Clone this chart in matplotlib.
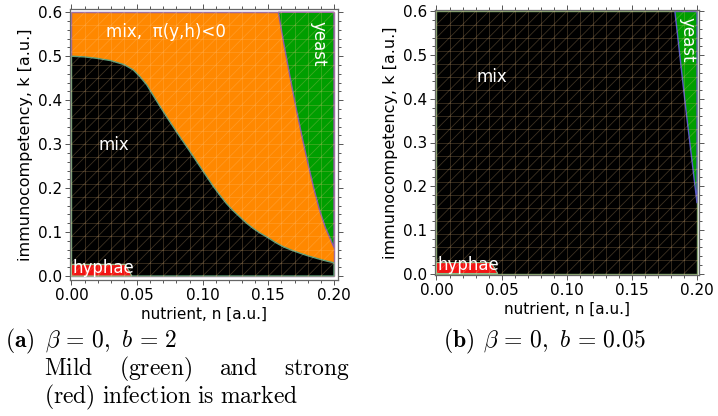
import numpy as np
import matplotlib
matplotlib.use("Agg")
import matplotlib.pyplot as plt
from matplotlib.ticker import MultipleLocator, FormatStrFormatter

plt.rcParams["mathtext.fontset"] = "cm"
plt.rcParams["font.family"] = ["DejaVu Sans"]

# ---- phase boundaries, panel (a): beta = 0, b = 2 ----
# upper edge of the "mix" region (black)
a_mix_n = [0.0, 0.01, 0.02, 0.03, 0.04, 0.047, 0.052, 0.0573, 0.062, 0.0674,
           0.0725, 0.0776, 0.0827, 0.0878, 0.093, 0.0979, 0.103, 0.108, 0.113,
           0.118, 0.123, 0.128, 0.133, 0.1385, 0.1435, 0.1487, 0.155, 0.161,
           0.1675, 0.174, 0.18, 0.187, 0.193, 0.2]
a_mix_k = [0.5, 0.4985, 0.495, 0.490, 0.481, 0.469, 0.454, 0.435, 0.412, 0.386,
           0.362, 0.339, 0.316, 0.294, 0.271, 0.249, 0.226, 0.204, 0.184,
           0.165, 0.149, 0.135, 0.121, 0.108, 0.098, 0.089, 0.077, 0.067,
           0.059, 0.052, 0.046, 0.040, 0.035, 0.030]
# left edge of the "yeast" region (green)
a_yeast_n = [0.1576, 0.162, 0.1665, 0.171, 0.1755, 0.18, 0.1845, 0.189, 0.1935, 0.2]
a_yeast_k = [0.600, 0.525, 0.453, 0.384, 0.319, 0.258, 0.201, 0.150, 0.110, 0.065]
# "hyphae" corner (red): top edge and slanted right end
a_hyph_k = 0.026
a_hyph_n_top = 0.041
a_hyph_n_bottom = 0.046

# ---- phase boundaries, panel (b): beta = 0, b = 0.05 ----
b_yeast_n = [0.183, 0.1915, 0.2]
b_yeast_k = [0.6, 0.374, 0.161]
b_hyph_k = 0.025
b_hyph_n_top = 0.042
b_hyph_n_bottom = 0.047

N_MAX, K_MAX = 0.2, 0.6
x_ticks = [0.0, 0.05, 0.10, 0.15, 0.20]
y_ticks = [0.0, 0.1, 0.2, 0.3, 0.4, 0.5, 0.6]

ORANGE = "#ff8800"
GREEN = "#009e00"
RED = "#f21414"
BLACK = "#000000"

W, H = 718, 416
fig = plt.figure(figsize=(W / 100, H / 100), dpi=100)


def add_axes_px(left, top, right, bottom):
    return fig.add_axes([left / W, 1 - bottom / H, (right - left) / W, (bottom - top) / H])


def style_axes(ax, xlim, ylim):
    ax.set_xlim(*xlim)
    ax.set_ylim(*ylim)
    ax.set_xticks(x_ticks)
    ax.set_yticks(y_ticks)
    ax.xaxis.set_major_formatter(FormatStrFormatter("%.2f"))
    ax.yaxis.set_major_formatter(FormatStrFormatter("%.1f"))
    ax.xaxis.set_minor_locator(MultipleLocator(0.01))
    ax.yaxis.set_minor_locator(MultipleLocator(0.02))
    ax.tick_params(which="both", direction="out", top=True, right=True,
                   color="#555555", width=0.7, labelsize=11, pad=2)
    ax.tick_params(which="major", length=3.5)
    ax.tick_params(which="minor", length=2)
    for s in ax.spines.values():
        s.set_color("#666666")
        s.set_linewidth(0.9)
    ax.set_xlabel("nutrient, n [a.u.]", fontsize=11, labelpad=3)
    ax.set_ylabel("immunocompetency, k [a.u.]", fontsize=11.5, labelpad=4)


def draw_mesh(ax, cells=20):
    # faint triangulation seams over the filled regions
    xs = np.linspace(0, N_MAX, cells + 1)
    ys = np.linspace(0, K_MAX, cells + 1)
    kw = dict(color=(1.0, 0.8, 0.55), alpha=0.24, lw=0.6, zorder=5)
    for x in xs:
        ax.plot([x, x], [0, K_MAX], **kw)
    for y in ys:
        ax.plot([0, N_MAX], [y, y], **kw)
    dx, dy = N_MAX / cells, K_MAX / cells
    for i in range(-cells, cells + 1):
        xa = np.array([max(i * dx, 0), min(N_MAX, (i + cells) * dx)])
        ya = (xa - i * dx) / dx * dy
        ax.plot(xa, ya, **kw)


# ---------------- panel (a) ----------------
axa = add_axes_px(70, 9, 338, 280)
axa.fill([0, N_MAX, N_MAX, 0], [0, 0, K_MAX, K_MAX], color=ORANGE,
         ec="#8a5aa8", lw=1.0, zorder=1)
axa.fill(list(a_mix_n) + [N_MAX, 0], list(a_mix_k) + [0, 0], color=BLACK,
         ec="#5f9e7a", lw=1.0, zorder=2)
axa.fill(list(a_yeast_n) + [N_MAX], list(a_yeast_k) + [K_MAX], color=GREEN,
         ec="#8a5aa8", lw=1.0, zorder=2)
axa.fill([0, a_hyph_n_top, a_hyph_n_bottom, 0], [a_hyph_k, a_hyph_k, 0, 0],
         color=RED, ec="#8fbf8f", lw=0.8, zorder=3)
draw_mesh(axa)
style_axes(axa, (-0.00114, 0.20305), (-0.0091, 0.6075))

txt = dict(color="white", fontsize=12, zorder=10)
axa.text(0.072, 0.555, "mix,  \u03c0(y,h)<0", ha="center", va="center", **txt)
axa.text(0.0324, 0.298, "mix", ha="center", va="center", **txt)
axa.text(0.1878, 0.529, "yeast", ha="center", va="center", rotation=-90, **txt)
axa.text(0.0005, 0.0185, "hyphae", ha="left", va="center", **txt)

# ---------------- panel (b) ----------------
axb = add_axes_px(435, 10, 699, 275)
axb.fill([0, N_MAX, N_MAX, 0], [0, 0, K_MAX, K_MAX], color=BLACK,
         ec="#6b9a6b", lw=1.0, zorder=1)
axb.fill(list(b_yeast_n) + [N_MAX], list(b_yeast_k) + [K_MAX], color=GREEN,
         ec="#5a5ac8", lw=1.0, zorder=2)
axb.fill([0, b_hyph_n_top, b_hyph_n_bottom, 0], [b_hyph_k, b_hyph_k, 0, 0],
         color=RED, ec="#8fbf8f", lw=0.8, zorder=3)
draw_mesh(axb)
style_axes(axb, (-0.00115, 0.2015), (-0.0034, 0.6034))

axb.text(0.0426, 0.451, "mix", ha="center", va="center", **txt)
axb.text(0.193, 0.535, "yeast", ha="center", va="center", rotation=-90, **txt)
axb.text(0.0005, 0.0185, "hyphae", ha="left", va="center", **txt)

# ---------------- captions ----------------
CAP = 17


def ftext(x, y, s, **kw):
    return fig.text(x / W, 1 - y / H, s, fontsize=CAP, va="baseline", **kw)


ftext(5, 347, r"$\mathbf{(a)}$")
ftext(45, 347, r"$\beta\,=\,0,\ b\,=\,2$")
ftext(443, 347, r"$\mathbf{(b)}$")
ftext(483, 347, r"$\beta\,=\,0,\ b\,=\,0.05$")

# justified first caption line
words = [r"$\mathrm{Mild}$", r"$\mathrm{(green)}$", r"$\mathrm{and}$", r"$\mathrm{strong}$"]
line_left, line_right = 44, 350
fig.canvas.draw()
renderer = fig.canvas.get_renderer()
objs = [ftext(0, 375, w) for w in words]
widths = [o.get_window_extent(renderer).width for o in objs]
gap = (line_right - line_left - sum(widths)) / (len(words) - 1)
xpos = line_left
for o, wd in zip(objs, widths):
    o.set_x(xpos / W)
    xpos += wd + gap

ftext(44, 403, r"$\mathrm{(red)\ infection\ is\ marked}$")

fig.savefig("out.png", dpi=100)
